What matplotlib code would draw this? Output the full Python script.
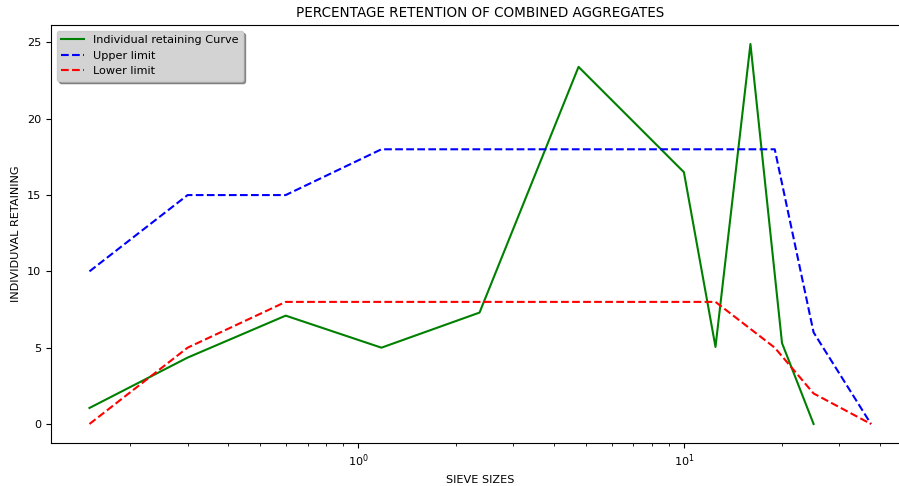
import matplotlib
matplotlib.use("Agg")
import matplotlib.pyplot as plt

sieve_green = [0.15, 0.3, 0.6, 1.18, 2.36, 4.75, 10, 12.5, 16, 20, 25]
retained = [1.05, 4.35, 7.1, 5.0, 7.3, 23.4, 16.5, 5.05, 24.9, 5.3, 0]

sieve_limits = [0.15, 0.3, 0.6, 1.18, 2.36, 4.75, 10, 12.5, 19, 25, 37.5]
upper = [10, 15, 15, 18, 18, 18, 18, 18, 18, 6, 0]
lower = [0, 5, 8, 8, 8, 8, 8, 8, 5, 2, 0]

plt.rcParams['font.size'] = 8.1

fig = plt.figure(figsize=(8.99, 4.86), dpi=100)
ax = fig.add_axes([51 / 899, 0.0885, 859 / 899, 0.8601])
ax.plot(sieve_green, retained, color='g', label='Individual retaining Curve')
ax.plot(sieve_limits, upper, color='b', linestyle='--', label='Upper limit')
ax.plot(sieve_limits, lower, color='r', linestyle='--', label='Lower limit')
ax.set_xscale('log')
ax.set_xlim(0.1143, 49.4)
ax.set_title('PERCENTAGE RETENTION OF COMBINED AGGREGATES')
ax.set_xlabel('SIEVE SIZES')
ax.set_ylabel('INDIVIDUVAL RETAINING')
ax.legend(loc='upper left', facecolor='lightgray', shadow=True, framealpha=1)
fig.savefig('out.png', dpi=100)
